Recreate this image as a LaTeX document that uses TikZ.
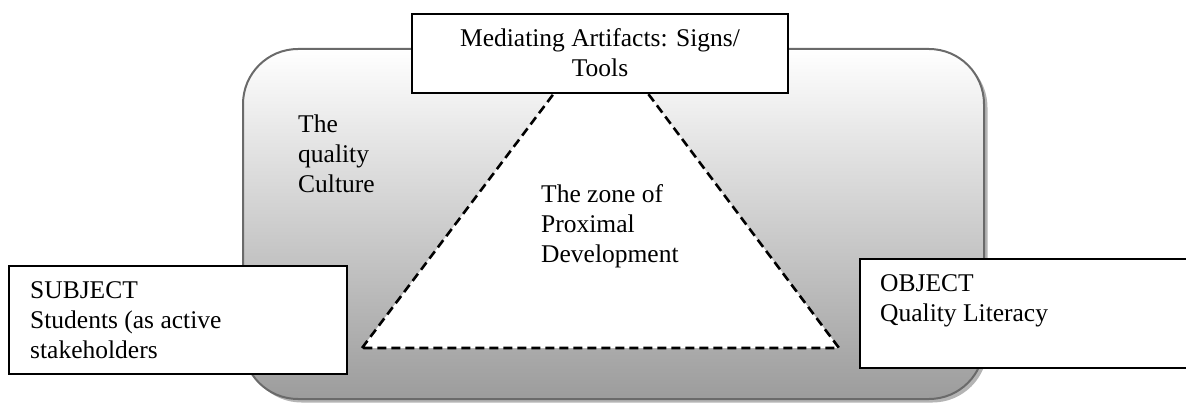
\documentclass[tikz,border=0pt]{standalone}
\usepackage{fontspec}
\setmainfont{Liberation Serif}
\definecolor{ctxedge}{HTML}{6A6A6A}
\definecolor{ctxbottom}{HTML}{9C9C9C}
\definecolor{ctxshadow}{HTML}{B4B4B4}
\begin{document}
\begin{tikzpicture}[x=1pt,y=-1pt,
  every node/.style={font=\fontsize{25.5}{30}\selectfont, inner sep=0pt},
  framebox/.style={draw=black, line width=1.6pt, fill=white, rectangle},
  ctxbox/.style={rectangle, rounded corners=55pt, draw=ctxedge, line width=2pt,
    top color=white, bottom color=ctxbottom},
  shadowbox/.style={rectangle, rounded corners=55pt, fill=ctxshadow},
  txt/.style={anchor=base west, align=left},
  zpdline/.style={dash pattern=on 9pt off 5pt, line width=2.6pt, line join=miter}]
\clip (0,0) rectangle (1186,403);

% activity context: shaded rounded panel with a soft shadow
\node[shadowbox, minimum width=741pt, minimum height=350pt] (ctxshadow) at (617,227.5) {};
\node[ctxbox, minimum width=741pt, minimum height=350pt] (ctx) at (613.5,224) {};

% multi-line texts are placed by the baseline of their last line
\node[txt] (culture) at (298,193) {The\\quality\\Culture};

% zone of proximal development
\coordinate (apex) at (601,31);
\coordinate (bl) at (362,348);
\coordinate (br) at (839,348);
\draw[zpdline, fill=white] (bl) -- (apex) -- (br) -- cycle;
\node[txt] (zone) at (541,263) {The zone of\\Proximal\\Development};

% mediating artifacts
\node[framebox, minimum width=376pt, minimum height=79pt] (mediating) at (600,53.5) {};
\node[anchor=base, align=center] (medtext) at (600,77) {Mediating Artifacts: Signs/\\Tools};

% subject
\node[framebox, minimum width=338pt, minimum height=108pt] (subject) at (178,320) {};
\node[txt] (subjtext) at (30,358) {SUBJECT\\Students (as active\\stakeholders};

% object
\node[framebox, minimum width=350pt, minimum height=109pt] (object) at (1035,313.5) {};
\node[txt] (objtext) at (880,322) {OBJECT\\Quality Literacy};
\end{tikzpicture}
\end{document}
